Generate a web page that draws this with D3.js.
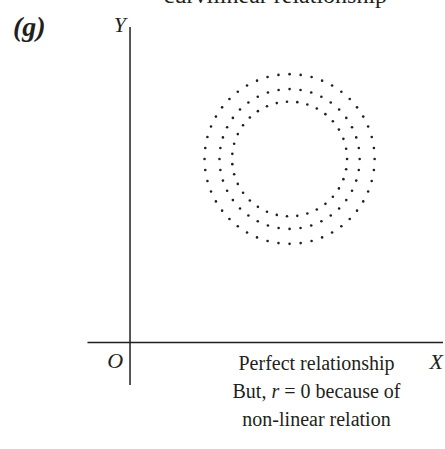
<!DOCTYPE html>
<html>
<head>
<meta charset="utf-8">
<script src="https://cdn.jsdelivr.net/npm/d3@7"></script>
<style>
  body { margin: 0; background: #fff; }
  text { font-family: "Liberation Serif", "Times New Roman", serif; fill: #231f20; }
</style>
</head>
<body>
<div id="graph"></div>
<script>
const width = 445,
  height = 449;

// rings of dots (data units), centre and dot count of each ring
const ringCenter = [9.38, 10.82];
const ringRadii = [5.0, 4.12, 3.38];
const ringDots = [48, 40, 35];
const xDomain = [-2.5, 18.4];
const yDomain = [-2.5, 18.6];
const noteLines = ["Perfect relationship", "But, r = 0 because of", "non-linear relation"];

const svg = d3.select("#graph").append("svg")
  .attr("width", width)
  .attr("height", height);

const x = d3.scaleLinear().domain(xDomain).range([87.5, 443]);
const y = d3.scaleLinear().domain(yDomain).range([385, 27]);

// axes through the origin
svg.append("line")
  .attr("x1", x(0)).attr("x2", x(0))
  .attr("y1", y(yDomain[0])).attr("y2", y(yDomain[1]))
  .attr("stroke", "#231f20").attr("stroke-width", 1.5);
svg.append("line")
  .attr("x1", x(xDomain[0])).attr("x2", x(xDomain[1]))
  .attr("y1", y(0)).attr("y2", y(0))
  .attr("stroke", "#231f20").attr("stroke-width", 1.5);

// dotted rings
const dots = [];
ringRadii.forEach((r, i) => {
  const n = ringDots[i];
  for (let k = 0; k < n; k++) {
    const a = 2 * Math.PI * k / n;
    dots.push({ x: ringCenter[0] + r * Math.cos(a), y: ringCenter[1] + r * Math.sin(a) });
  }
});

svg.append("g")
  .attr("fill", "#231f20")
  .selectAll("circle")
  .data(dots)
  .join("circle")
  .attr("cx", d => x(d.x))
  .attr("cy", d => y(d.y))
  .attr("r", 1.3);

// labels
svg.append("text")
  .attr("x", 275.5).attr("y", 3)
  .attr("text-anchor", "middle")
  .attr("font-size", 24)
  .text("curvilinear relationship");

svg.append("text")
  .attr("x", 13).attr("y", 36)
  .attr("font-size", 28)
  .attr("font-weight", "bold")
  .attr("font-style", "italic")
  .text("(g)");

svg.append("text")
  .attr("x", x(0) - 4).attr("y", 32)
  .attr("text-anchor", "end")
  .attr("font-size", 22)
  .attr("font-style", "italic")
  .text("Y");

svg.append("text")
  .attr("x", x(0) - 7).attr("y", 368)
  .attr("text-anchor", "end")
  .attr("font-size", 22)
  .attr("font-style", "italic")
  .text("O");

svg.append("text")
  .attr("x", 443).attr("y", 369)
  .attr("text-anchor", "end")
  .attr("font-size", 22)
  .attr("font-style", "italic")
  .text("X");

const note = svg.append("text")
  .attr("text-anchor", "middle")
  .attr("font-size", 20);
noteLines.forEach((t, i) => {
  const ts = note.append("tspan").attr("x", 316.5).attr("y", 370 + i * 28);
  if (t.startsWith("But, r")) {
    ts.append("tspan").text("But, ");
    ts.append("tspan").attr("font-style", "italic").text("r");
    ts.append("tspan").text(" = 0 because of");
  } else {
    ts.text(t);
  }
});
</script>
</body>
</html>
